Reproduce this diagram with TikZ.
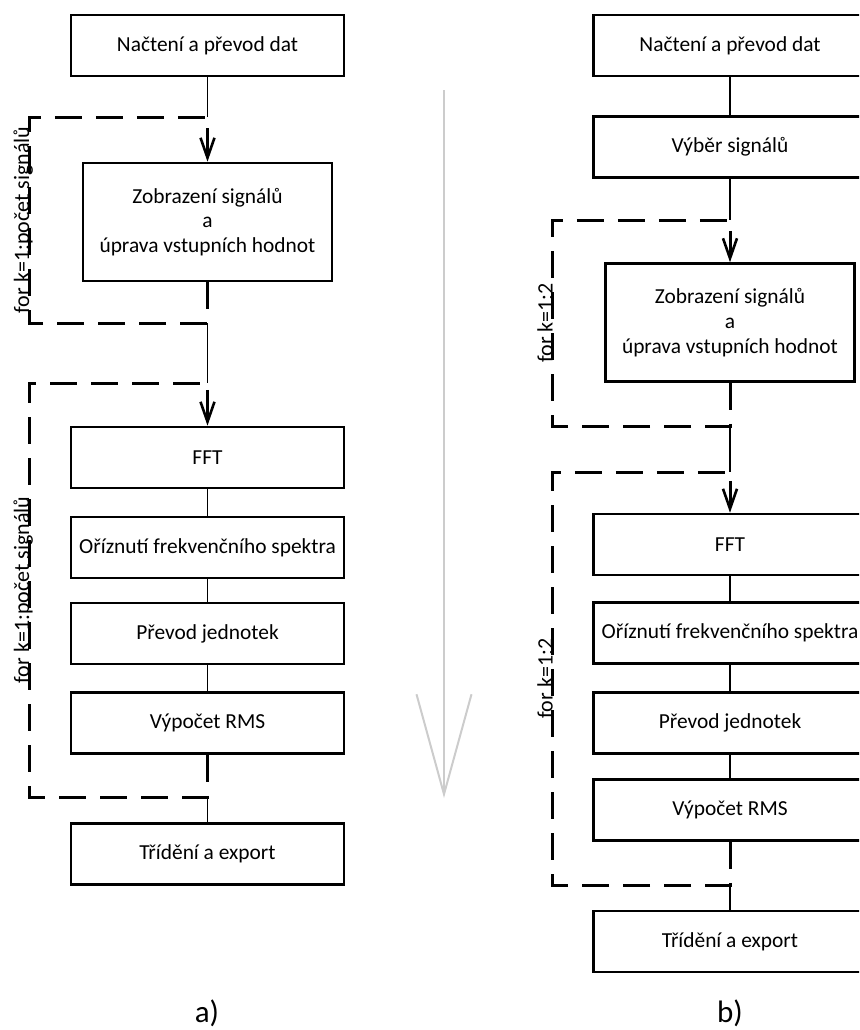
\documentclass[tikz,border=0pt]{standalone}
\usepackage{fontspec}
\setmainfont{Carlito}
\usetikzlibrary{arrows.meta}

\begin{document}
\begin{tikzpicture}[x=0.5pt,y=-0.5pt,
        blok/.style={draw,line width=1.3pt,minimum width=136.5pt,minimum height=30.5pt,
            inner sep=0pt,align=center,font=\fontsize{10.7}{12.4}\selectfont},
        velky/.style={blok,minimum width=124.5pt,minimum height=59pt},
        spoj/.style={line width=0.8pt},
        smycka/.style={line width=1.5pt,dash pattern=on 13.5pt off 7pt,
            -{Straight Barb[length=10pt,width=7pt,line width=1.3pt]}},
        popis/.style={rotate=90,anchor=base,inner sep=1pt,font=\fontsize{11}{12}\selectfont},
        sipka/.style={draw=gray!40,line width=1pt,-{Straight Barb[length=50pt,width=27.5pt]}},
        znacka/.style={anchor=base,font=\fontsize{15.5}{18}\selectfont}]
    \useasboundingbox (0,0) rectangle (859,1030);
    \clip (0,0) rectangle (859,1030);
    \coordinate (la) at (29,0);
    \coordinate (lb) at (552.5,0);

    %a)
    \node[blok] (a1) at (207.5,45.5) {Načtení a převod dat};
    \node[velky] (a2) at (207.5,222) {Zobrazení signálů\\a\\úprava vstupních hodnot};
    \node[blok] (a3) at (207.5,457.5) {FFT};
    \node[blok] (a4) at (207.5,547.5) {Oříznutí frekvenčního spektra};
    \node[blok] (a5) at (207.5,633.5) {Převod jednotek};
    \node[blok] (a6) at (207.5,723) {Výpočet RMS};
    \node[blok] (a7) at (207.5,854) {Třídění a export};
    \coordinate (a1h) at (207.5,117);
    \coordinate (a1d) at (207.5,323);
    \coordinate (a2h) at (207.5,383);
    \coordinate (a2d) at (207.5,797);

    \draw[spoj] (a1) -- (a1h);
    \draw[spoj] (a1d) -- (a2h);
    \draw[spoj] (a3) -- (a4);
    \draw[spoj] (a4) -- (a5);
    \draw[spoj] (a5) -- (a6);
    \draw[spoj] (a2d) -- (a7);

    \draw[smycka] (a2.south) -- (a1d) -- (a1d -| la)
        -- node[popis] (ka1) {for k=1:počet signálů} (a1h -| la) -- (a1h) -- (a2.north);
    \draw[smycka] (a6.south) -- (a2d) -- (a2d -| la)
        -- node[popis] (ka2) {for k=1:počet signálů} (a2h -| la) -- (a2h) -- (a3.north);

    %b)
    \node[blok] (b1) at (730,45.5) {Načtení a převod dat};
    \node[blok] (b2) at (730,147) {Výběr signálů};
    \node[velky] (b3) at (730,322.5) {Zobrazení signálů\\a\\úprava vstupních hodnot};
    \node[blok] (b4) at (730,544.5) {FFT};
    \node[blok] (b5) at (730,633) {Oříznutí frekvenčního spektra};
    \node[blok] (b6) at (730,723) {Převod jednotek};
    \node[blok] (b7) at (730,810) {Výpočet RMS};
    \node[blok] (b8) at (730,941.5) {Třídění a export};
    \coordinate (b1h) at (730,220);
    \coordinate (b1d) at (730,426);
    \coordinate (b2h) at (730,472);
    \coordinate (b2d) at (730,885);

    \draw[spoj] (b1) -- (b2);
    \draw[spoj] (b2) -- (b1h);
    \draw[spoj] (b1d) -- (b2h);
    \draw[spoj] (b4) -- (b5);
    \draw[spoj] (b5) -- (b6);
    \draw[spoj] (b6) -- (b7);
    \draw[spoj] (b2d) -- (b8);

    \draw[smycka] (b3.south) -- (b1d) -- (b1d -| lb)
        -- node[popis] (kb1) {for k=1:2} (b1h -| lb) -- (b1h) -- (b3.north);
    \draw[smycka] (b7.south) -- (b2d) -- (b2d -| lb)
        -- node[popis] (kb2) {for k=1:2} (b2h -| lb) -- (b2h) -- (b4.north);

    %time arrow
    \coordinate (sa) at (444,90);
    \coordinate (sb) at (444,798);
    \draw[sipka] (sa) -- (sb);

    \node[znacka] (pa) at (207,1022) {a)};
    \node[znacka] (pb) at (730,1022) {b)};
\end{tikzpicture}
\end{document}
